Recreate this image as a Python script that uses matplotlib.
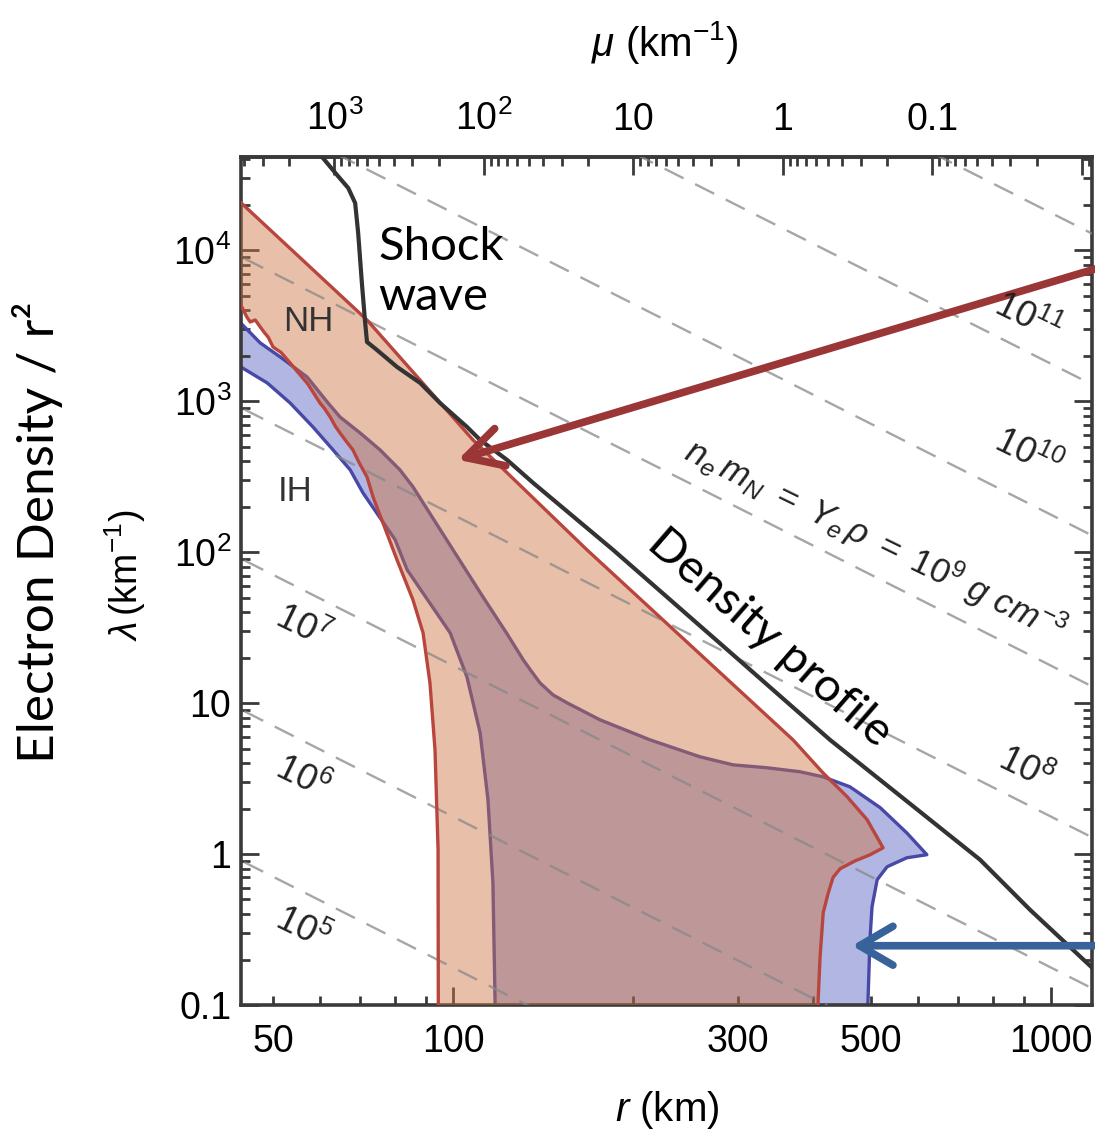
import numpy as np
import matplotlib
matplotlib.use("Agg")
import matplotlib.pyplot as plt
from matplotlib.ticker import FixedLocator, LogLocator, NullFormatter, FuncFormatter, FixedFormatter

plt.rcParams['font.family'] = ['Liberation Sans', 'DejaVu Sans']
plt.rcParams['mathtext.fontset'] = 'custom'
plt.rcParams['mathtext.rm'] = 'Liberation Sans'
plt.rcParams['mathtext.it'] = 'Liberation Sans:italic'
plt.rcParams['mathtext.bf'] = 'Liberation Sans:bold'
plt.rcParams['mathtext.sf'] = 'Liberation Sans'

NARROW = ['Liberation Sans Narrow', 'Liberation Sans', 'DejaVu Sans']
HUMAN = ['Lato', 'Open Sans', 'DejaVu Sans']

# ---------------- data (r in km, lambda in km^-1) ----------------
shock_r = [59.0, 60.4, 64.0, 66.8, 68.6, 69.4, 70.4, 71.3, 71.8, 74.6, 80.6, 88.1, 95.1,
           105.5, 111.0, 123.1, 136.1, 185.2, 294, 427, 570, 761, 922, 1171]
shock_lam = [46000, 41500, 31500, 25850, 20570, 13020, 6073, 3300, 2470, 2186, 1687, 1322, 974,
             676, 554, 409, 288, 103.6, 20.9, 5.71, 2.29, 0.917, 0.428, 0.177]

nh_top_r = [43.5, 71.8, 108.0, 167.5, 370.3, 415.6, 456, 492.5, 523.8]
nh_top_lam = [21900, 3454, 554, 103.6, 5.71, 3.45, 2.40, 1.69, 1.10]
nh_right_r = [498, 470, 444, 432, 424, 416, 411, 408, 407.5]
nh_right_lam = [0.989, 0.90, 0.80, 0.70, 0.55, 0.41, 0.21, 0.11, 0.08]
nh_low_r = [43.5, 45.2, 45.8, 46.7, 47.6, 48.3, 49.1, 50.0, 51.6, 53.4, 54.7, 57.0, 58.0,
            59.9, 60.9, 62.3, 63.6, 64.7, 66.0, 68.0, 69.7, 71.8, 73.5,
            80.6, 85.7, 89.1, 91.5, 93.3, 94.4, 94.5]
nh_low_lam = [4900, 3616, 3350, 3454, 3105, 2870, 2650, 2289, 2100, 1793, 1600, 1322, 1190,
              974, 900, 787, 680, 617, 555, 476, 390, 315, 232,
              88.9, 48.3, 29.2, 13.6, 4.9, 1.07, 0.08]

ih_top_r = [43.5, 47.6, 51.4, 57.0, 61.8, 64.7, 69.9, 75.5, 81.5, 85.7, 100, 112.2, 123.1,
            131, 135.0, 139.8, 146.9, 155.1, 176.1, 213.5, 258.8, 293.9, 335, 380.4, 415.6,
            461, 518, 574, 620]
ih_top_lam = [3500, 2433, 1966, 1448, 974, 787, 617, 476, 351, 271, 103.6, 50.6, 28.8,
              19.4, 16.4, 13.6, 11.35, 10.05, 7.75, 5.71, 4.41, 3.90, 3.73, 3.51, 3.25,
              2.79, 2.03, 1.38, 0.99]
ih_right_r = [574, 532, 512, 502, 498, 494, 493.5]
ih_right_lam = [0.945, 0.824, 0.676, 0.448, 0.271, 0.1, 0.08]
ih_low_r = [43.5, 48.9, 53.4, 58.3, 63.0, 67.3, 70.7, 80.0, 83.8, 98.9, 105.5, 111, 114.4,
            116.6, 117.6, 117.7]
ih_low_lam = [1750, 1322, 974, 676, 476, 351, 247, 121, 76.4, 29.2, 14.9, 6.36, 2.29,
              0.645, 0.1, 0.08]

rho_values = [1e5, 1e6, 1e7, 1e8, 1e9, 1e10, 1e11, 1e12]   # g cm^-3
lam_r2_per_rho = 0.0177          # lambda * r^2 / rho along the dashed lines
mu_r_unity = 356.0               # r (km) where mu = 1 km^-1 ; mu ~ r^-4

x_ticks_major = [100, 1000]
x_tick_labels_minor = [50, 300, 500]
y_ticks = [0.1, 1, 10, 100, 1000, 10000]
y_tick_labels = ['0.1', '1', '10', r'$10^2$', r'$10^3$', r'$10^4$']
mu_ticks = [1000, 100, 10, 1, 0.1, 0.01]
mu_tick_labels = [r'$10^3$', r'$10^2$', '10', '1', '0.1', '']

xlim = (44.2, 1171)
ylim = (0.1, 41500)

# ---------------- figure ----------------
W, H = 1095, 1134
fig = plt.figure(figsize=(W / 100, H / 100), dpi=100)
L, R, T, B = 241, 1092, 157, 1005
ax = fig.add_axes([L / W, 1 - B / H, (R - L) / W, (B - T) / H])
ax.set_xscale('log')
ax.set_yscale('log')
ax.set_xlim(*xlim)
ax.set_ylim(*ylim)

spine_col = '#3a3a3a'
for s in ax.spines.values():
    s.set_linewidth(2.6)
    s.set_color(spine_col)

# regions
ih_x = ih_top_r + ih_right_r + ih_low_r[::-1]
ih_y = ih_top_lam + ih_right_lam + ih_low_lam[::-1]
nh_x = nh_top_r + nh_right_r + nh_low_r[::-1]
nh_y = nh_top_lam + nh_right_lam + nh_low_lam[::-1]

ax.fill(ih_x, ih_y, facecolor='#b2b6e2', edgecolor='none', zorder=1)
ax.plot(ih_x + [ih_x[0]], ih_y + [ih_y[0]], color='#4848a6', lw=2.4, zorder=2,
        solid_joinstyle='round')
ax.fill(nh_x, nh_y, facecolor=(206 / 255, 115 / 255, 62 / 255), alpha=0.45,
        edgecolor='none', zorder=3)

# iso-density dashed lines
for rho in rho_values:
    rr = np.array(xlim) * np.array([0.9, 1.1])
    ax.plot(rr, lam_r2_per_rho * rho / rr ** 2, color='#888888', alpha=0.75, lw=1.7,
            dashes=(9, 5.5), zorder=4)

ax.plot(nh_x + [nh_x[0]], nh_y + [nh_y[0]], color='#b8463e', lw=2.4, zorder=5,
        solid_joinstyle='round')

# density profile / shock wave
ax.plot(shock_r, shock_lam, color='#333333', lw=3.0, zorder=6, solid_joinstyle='round')

# arrows
ax.annotate('', xy=(101.9, 409), xytext=(1200, 7635),
            arrowprops=dict(arrowstyle='->,head_length=1.3,head_width=0.7',
                            color='#9b3636', lw=5.5, shrinkA=0, shrinkB=0,
                            mutation_scale=20),
            annotation_clip=False, zorder=7)
ax.annotate('', xy=(464.8, 0.247), xytext=(1200, 0.247),
            arrowprops=dict(arrowstyle='->,head_length=1.2,head_width=0.7',
                            color='#37639a', lw=5.5, shrinkA=0, shrinkB=0,
                            mutation_scale=20),
            annotation_clip=False, zorder=7)

# ticks
ax.tick_params(which='both', direction='in', top=False, right=True,
               width=2.0, color=spine_col)
ax.tick_params(which='major', length=13)
ax.tick_params(which='minor', length=6.5)
ax.tick_params(axis='x', which='both', pad=14, labelsize=27)
ax.tick_params(axis='y', which='both', pad=7, labelsize=27)

ax.xaxis.set_major_locator(FixedLocator(x_ticks_major))
ax.xaxis.set_major_formatter(FuncFormatter(lambda v, p: f'{int(round(v))}'))
ax.xaxis.set_minor_locator(LogLocator(base=10, subs=np.arange(2, 10), numticks=50))
ax.xaxis.set_minor_formatter(FuncFormatter(
    lambda v, p: f'{int(round(v))}' if int(round(v)) in x_tick_labels_minor else ''))
for lab in ax.get_xticklabels(which='both'):
    lab.set_family(NARROW)

ax.yaxis.set_major_locator(FixedLocator(y_ticks))
ax.yaxis.set_major_formatter(FixedFormatter(y_tick_labels))
ax.yaxis.set_minor_locator(LogLocator(base=10, subs=np.arange(2, 10), numticks=50))
ax.yaxis.set_minor_formatter(NullFormatter())


def r_to_mu(r):
    r = np.asarray(r, dtype=float)
    return (mu_r_unity / np.maximum(r, 1e-30)) ** 4


def mu_to_r(m):
    m = np.asarray(m, dtype=float)
    return mu_r_unity * np.maximum(m, 1e-30) ** (-0.25)


secax = ax.secondary_xaxis('top', functions=(r_to_mu, mu_to_r))
secax.xaxis.set_major_locator(FixedLocator(mu_ticks))
secax.xaxis.set_major_formatter(FixedFormatter(mu_tick_labels))
secax.xaxis.set_minor_locator(LogLocator(base=10, subs=np.arange(2, 10), numticks=50))
secax.xaxis.set_minor_formatter(NullFormatter())
secax.tick_params(which='both', direction='in', width=2.0, color=spine_col,
                  labelsize=27, pad=14)
secax.tick_params(which='major', length=13)
secax.tick_params(which='minor', length=6.5)
for s in secax.spines.values():
    s.set_linewidth(2.6)
    s.set_color(spine_col)
for lab in secax.get_xticklabels():
    lab.set_family(NARROW)

# axis labels
fig.text(665 / W, 1 - 42 / H, r'$\mu\ (\mathrm{km}^{-1})$', ha='center', va='center',
         fontsize=29)
fig.text(667 / W, 1 - 1110 / H, r'$r\ (\mathrm{km})$', ha='center', va='center',
         fontsize=29)
fig.text(125 / W, 1 - 575 / H, r'$\lambda\,(\mathrm{km}^{-1})$', ha='center', va='center',
         fontsize=27, rotation=90)
fig.text(38 / W, 1 - 532 / H, 'Electron Density / r²', ha='center', va='center',
         fontsize=37, rotation=90, family=HUMAN)

# annotations
ax.text(74.9, 7183, 'Shock\nwave', ha='left', va='center', fontsize=34,
        family=HUMAN, linespacing=1.22, zorder=8)
ax.text(338, 27.0, 'Density profile', ha='center', va='center', fontsize=34,
        family=HUMAN, rotation=-41, rotation_mode='anchor', zorder=8)
ax.text(57.2, 3350, 'NH', ha='center', va='center', fontsize=25, color='#333333', zorder=8)
ax.text(54.4, 251, 'IH', ha='center', va='center', fontsize=25, color='#333333', zorder=8)

ax.text(508, 120.6, r'$\mathit{n_e\,m_N\ =\ Y_e\,\rho\ =\ 10^9\ g\ cm^{-3}}$',
        ha='center', va='center', fontsize=25, rotation=-26, rotation_mode='anchor',
        color='#222222', zorder=8)

rho_label_pos = [(55.9, 0.315, '5'), (55.9, 3.20, '6'), (55.9, 32.0, '7'),
                 (904.6, 3.62, '8'), (915, 441, '10'), (915, 3561, '11')]
for xr, yl, e in rho_label_pos:
    ax.text(xr, yl, r'$\mathit{10^{' + e + r'}}$', ha='center', va='center', fontsize=26,
            rotation=-26, rotation_mode='anchor', color='#222222', zorder=8)

fig.savefig('out.png', dpi=100, facecolor='white')
